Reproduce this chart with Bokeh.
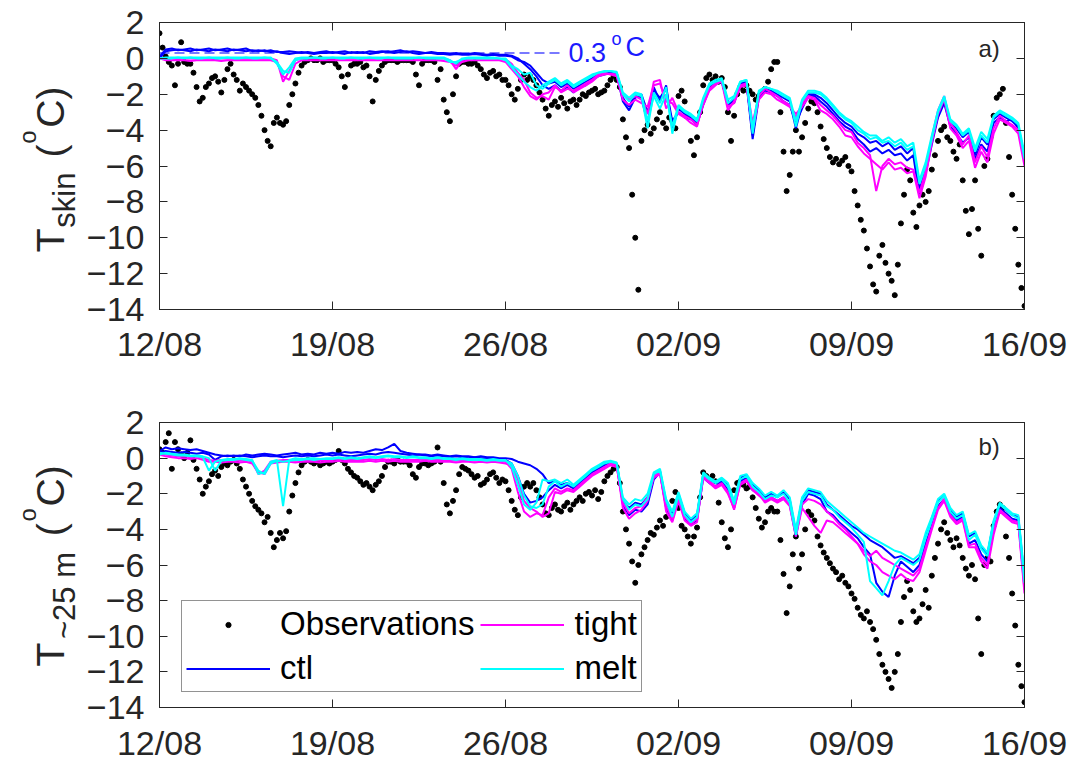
import pandas as pd
from math import pi
from bokeh.plotting import figure
from bokeh.layouts import column, row
from bokeh.core.properties import value
from bokeh.models import (Range1d, DatetimeAxis, LinearAxis, FixedTicker,
                          DatetimeTickFormatter, CustomJSTickFormatter, Label,
                          Legend, LegendItem)
from bokeh.embed import file_html
from bokeh.resources import INLINE

# ---------------- data ----------------
START = "2018-08-12 00:00"
END = "2018-09-16 00:00"
TICK_DATES = ["2018-08-12", "2018-08-19", "2018-08-26", "2018-09-02", "2018-09-09", "2018-09-16"]
Y_TICKS = [-14, -12, -10, -8, -6, -4, -2, 0, 2]
OBS_STEP = "3h"
MODEL_STEP = "6h"
REF_LEVEL = 0.3
REF_END = "2018-08-28 05:00"

OBS_A = [
    1.4, 0.6, 0.1, -0.2, -0.4, -1.5, -0.3, 0.9,
    -0.2, -0.3, -0.3, -0.8, -1.6, -2.4, -2.2, -1.6,
    -1.4, -1.1, -1.0, -1.3, -1.9, -1.2, -0.6, -0.3,
    -0.9, -1.2, -1.8, -1.4, -1.6, -1.8, -2.0, -2.2,
    -2.6, -3.2, -4.0, -4.6, -4.9, -3.6, -3.3, -3.6,
    -3.7, -3.5, -2.6, -2.0, -1.4, -0.8, -0.4, -0.2,
    -0.1, 0.0, -0.1, -0.1, 0.0, -0.2, -0.1, -0.1,
    -0.1, -0.3, -0.5, -1.0, -1.6, -0.9, -0.4, -0.3,
    -0.3, -0.2, -0.5, -0.4, -1.0, -2.4, -1.2, -0.7,
    -0.4, -0.2, -0.1, -0.1, -0.1, -0.2, -0.1, -0.1,
    -0.1, -0.1, -0.2, -0.9, -1.5, -0.3, -0.1, -0.1,
    -0.1, -0.2, -1.2, -0.6, -2.3, -3.0, -3.5, -2.0,
    -1.0, -0.3, -0.2, -0.2, -0.3, -0.3, -0.2, -0.4,
    -0.6, -0.9, -1.1, -0.8, -0.7, -1.0, -0.9, -1.2,
    -1.2, -1.5, -2.0, -2.3, -1.7, -1.2, -0.9, -1.2,
    -1.0, -1.2, -1.5, -1.9, -2.3, -2.8, -3.2, -2.6,
    -2.4, -2.7, -2.2, -2.5, -2.8, -2.4, -2.3, -2.6,
    -2.3, -2.0, -2.1, -1.9, -1.8, -1.7, -2.0, -1.9,
    -1.8, -1.5, -1.2, -1.0, -1.2, -1.6, -3.4, -4.4,
    -5.0, -7.6, -10.0, -12.9, -4.6, -4.0, -3.7, -4.2,
    -3.9, -3.4, -3.0, -3.6, -3.9, -3.3, -3.5, -3.9,
    -2.1, -1.8, -2.4, -3.2, -4.6, -5.4, -4.4, -3.0,
    -1.5, -1.1, -0.9, -1.2, -1.0, -1.3, -1.1, -1.6,
    -3.0, -4.6, -3.2, -2.0, -1.6, -1.8, -1.5, -1.8,
    -2.0, -2.3, -2.1, -1.9, -1.7, -1.3, -0.6, -0.2,
    -0.2, -3.0, -5.2, -7.4, -6.5, -5.2, -4.0, -5.2,
    -4.4, -3.6, -2.8, -2.4, -2.5, -3.0, -3.8, -4.5,
    -5.0, -5.5, -5.8, -5.6, -5.9, -5.7, -5.5, -6.0,
    -6.3, -7.4, -8.2, -9.0, -9.6, -10.6, -11.6, -12.6,
    -13.0, -11.0, -10.4, -11.4, -12.0, -12.4, -13.2, -11.5,
    -9.2, -7.6, -6.2, -6.8, -8.6, -9.4, -8.2, -7.6,
    -8.0, -7.4, -6.2, -5.4, -4.6, -4.0, -3.8, -4.4,
    -4.6, -5.2, -5.6, -4.8, -6.8, -8.5, -9.8, -8.4,
    -6.8, -9.5, -11.0, -6.0, -5.6, -4.4, -3.2, -2.2,
    -2.0, -1.7, -3.6, -5.5, -7.6, -9.5, -11.5, -12.8,
    -13.8]

OBS_B = [
    0.5, 0.3, 0.9, 1.4, -0.6, 0.9, 0.5, 0.2,
    0.0, 0.3, 1.0, -0.1, -0.6, -1.2, -2.0, -1.6,
    -1.3, -0.9, -0.7, -1.0, -0.5, -0.3, -0.4, -0.2,
    -0.1, -0.3, -0.6, -1.2, -1.6, -2.0, -2.4, -2.7,
    -2.9, -3.1, -3.6, -3.3, -4.2, -5.0, -4.6, -4.2,
    -4.5, -4.1, -3.0, -2.1, -1.4, -0.8, -0.4, -0.2,
    -0.1, -0.2, -0.3, -0.2, -0.4, -0.3, -0.2, -0.3,
    -0.2, -0.1, 0.4, -0.1, -0.3, -0.6, -0.8, -1.0,
    -1.1, -1.3, -1.5, -1.4, -1.6, -1.8, -1.5, -1.3,
    -1.0, -0.5, -0.2, -0.2, -0.3, -0.1, -0.2, -0.2,
    -0.2, -0.4, -0.9, -1.1, -0.5, -0.3, -0.3, -0.4,
    -0.3, -0.2, 0.6, -0.2, -1.4, -2.6, -3.1, -2.4,
    -1.8, -0.9, -0.5, -0.6, -0.7, -0.9, -1.1, -1.0,
    -1.5, -1.4, -1.2, -0.9, -0.8, -1.1, -1.4, -1.2,
    -1.3, -1.8, -2.4, -2.9, -3.2, -2.2, -1.6, -1.4,
    -1.6, -1.4, -1.8, -2.2, -2.6, -3.1, -3.2, -2.8,
    -2.6, -2.9, -3.0, -2.7, -2.5, -2.9, -2.6, -2.4,
    -2.2, -2.4, -2.0, -1.9, -2.1, -1.8, -2.3, -1.9,
    -1.3, -1.0, -0.8, -0.6, -0.5, -1.4, -3.0, -4.0,
    -4.8, -5.8, -7.0, -6.0, -5.4, -5.0, -4.6, -4.2,
    -4.3, -3.9, -3.5, -3.8, -3.3, -3.0, -2.4, -1.9,
    -2.8, -3.8, -4.0, -4.4, -4.8, -4.4, -3.9, -2.2,
    -0.8, -1.0, -1.2, -1.0, -1.3, -2.5, -3.6, -4.5,
    -5.0, -4.0, -1.8, -1.4, -1.3, -1.5, -1.7, -1.6,
    -2.2, -2.8, -3.4, -3.9, -3.6, -3.0, -2.8, -3.0,
    -3.0, -4.6, -6.5, -8.7, -7.2, -5.4, -4.4, -6.2,
    -5.4, -4.0, -3.0, -3.2, -3.5, -4.4, -4.9, -5.3,
    -5.6, -5.9, -6.2, -6.4, -6.8, -6.6, -7.0, -7.2,
    -7.6, -7.9, -8.4, -8.8, -9.0, -8.6, -9.2, -9.6,
    -10.2, -11.0, -11.6, -12.0, -12.4, -12.9, -12.0, -11.0,
    -9.2, -7.8, -6.9, -7.4, -8.6, -9.2, -9.0, -8.2,
    -7.4, -8.4, -6.6, -5.6, -4.8, -4.0, -3.6, -4.2,
    -4.6, -5.0, -4.5, -4.9, -5.6, -6.2, -6.6, -6.0,
    -6.8, -9.0, -11.0, -6.0, -5.6, -5.8, -3.8, -3.0,
    -2.6, -2.8, -4.4, -5.6, -7.6, -9.4, -11.6, -12.8,
    -13.7]

# model runs, 6-hourly, panel a (T skin)
CTL_A1 = [
    0.0, 0.4, 0.45, 0.5, 0.45, 0.4, 0.5, 0.45, 0.4, 0.5, 0.45, 0.4,
    0.5, 0.45, 0.4, 0.45, 0.4, 0.45, 0.35, 0.4, 0.3, 0.25, 0.3, 0.35,
    0.3, 0.25, 0.3, 0.3, 0.35, 0.3, 0.25, 0.35, 0.3, 0.35, 0.25, 0.3,
    0.35, 0.4, 0.3, 0.35, 0.4, 0.3, 0.25, 0.3, 0.3, 0.25, 0.25, 0.2,
    0.25, 0.2, 0.2, 0.25, 0.2, 0.15, 0.2, 0.15, 0.15, 0.1, -0.1, -0.2,
    -0.4, -0.8, -1.2, -1.4, -1.3, -1.6, -1.4, -1.7, -1.5, -1.3, -1.1, -0.9,
    -0.8, -0.75, -0.8, -2.2, -2.7, -2.0, -2.2, -3.6, -1.6, -2.4, -1.5, -3.9,
    -2.8, -3.1, -3.3, -3.6, -2.4, -1.6, -1.4, -1.3, -2.6, -2.3, -1.4, -1.3,
    -4.3, -2.0, -1.7, -1.8, -2.0, -2.2, -2.4, -3.9, -2.6, -2.0, -2.0, -2.2,
    -2.5, -2.9, -3.3, -3.6, -3.8, -4.2, -4.4, -4.7, -4.6, -4.9, -4.7, -5.1,
    -4.9, -5.3, -5.0, -7.3, -6.2, -4.6, -3.2, -2.3, -3.6, -3.9, -4.4, -4.1,
    -5.4, -4.4, -4.8, -3.4, -3.1, -3.3, -3.5, -3.8, -5.5]
CTL_A2 = [
    0.1, 0.5, 0.55, 0.45, 0.5, 0.55, 0.45, 0.5, 0.55, 0.45, 0.5, 0.55,
    0.45, 0.5, 0.55, 0.4, 0.45, 0.4, 0.45, 0.35, 0.35, 0.4, 0.35, 0.3,
    0.35, 0.3, 0.35, 0.4, 0.3, 0.35, 0.4, 0.3, 0.35, 0.3, 0.4, 0.35,
    0.4, 0.35, 0.4, 0.45, 0.35, 0.4, 0.35, 0.3, 0.35, 0.3, 0.3, 0.25,
    0.3, 0.25, 0.25, 0.3, 0.25, 0.2, 0.25, 0.2, 0.2, 0.15, 0.0, -0.3,
    -0.6, -1.0, -1.5, -1.7, -1.5, -1.8, -1.6, -1.9, -1.6, -1.5, -1.2, -1.0,
    -0.9, -0.8, -0.9, -2.4, -2.9, -2.2, -2.0, -3.0, -1.8, -2.2, -1.7, -3.5,
    -3.0, -3.3, -3.4, -3.7, -2.6, -1.7, -1.3, -1.2, -2.4, -2.5, -1.5, -1.4,
    -4.5, -2.2, -1.8, -1.9, -2.1, -2.4, -2.6, -3.6, -2.8, -2.1, -2.1, -2.4,
    -2.7, -3.1, -3.5, -3.8, -4.0, -4.5, -4.8, -5.2, -5.0, -5.3, -5.1, -5.4,
    -5.3, -5.7, -5.4, -7.7, -6.4, -4.8, -3.3, -2.5, -3.8, -4.2, -4.7, -4.4,
    -5.6, -4.8, -5.2, -3.6, -3.3, -3.5, -3.4, -3.9, -5.4]
TIGHT_A1 = [
    0.0, 0.0, 0.0, -0.05, 0.0, 0.0, 0.0, 0.0, 0.0, -0.05, 0.0, 0.0,
    0.0, 0.0, 0.0, 0.0, 0.0, 0.0, 0.0, -0.1, -1.3, -0.7, -0.1, 0.0,
    0.0, 0.0, 0.0, 0.0, 0.0, 0.0, 0.0, 0.0, 0.0, 0.0, 0.0, 0.0,
    0.0, 0.0, 0.0, 0.0, 0.0, 0.0, 0.0, 0.0, 0.0, 0.0, 0.0, -0.1,
    -0.6, -0.1, 0.0, 0.0, 0.0, 0.0, 0.0, -0.05, -0.05, -0.3, -0.8, -1.2,
    -1.9, -2.2, -2.1, -2.3, -1.6, -1.8, -1.5, -1.9, -1.7, -1.5, -1.3, -1.0,
    -0.9, -0.85, -0.9, -2.0, -2.3, -2.1, -2.3, -3.1, -1.3, -1.2, -2.8, -2.2,
    -3.0, -3.2, -3.4, -3.7, -2.6, -1.8, -1.5, -1.2, -2.7, -2.5, -1.6, -1.5,
    -3.6, -2.1, -1.7, -1.9, -2.1, -2.4, -2.6, -3.3, -2.5, -2.1, -2.2, -2.6,
    -2.9, -3.2, -3.6, -4.0, -4.1, -4.7, -5.0, -5.4, -7.4, -6.0, -5.6, -5.9,
    -5.8, -6.1, -6.2, -7.5, -6.3, -4.4, -2.9, -2.1, -3.6, -4.1, -4.8, -4.3,
    -5.8, -4.9, -5.5, -3.9, -3.2, -3.5, -3.7, -4.0, -5.8]
TIGHT_A2 = [
    0.0, -0.1, -0.1, -0.1, -0.1, -0.15, -0.1, -0.1, -0.1, -0.1, -0.15, -0.1,
    -0.1, -0.1, -0.1, -0.1, -0.1, -0.1, -0.1, -0.2, -1.0, -1.2, -0.3, -0.1,
    -0.1, -0.1, -0.1, -0.1, -0.1, -0.1, -0.1, -0.1, -0.1, -0.1, -0.1, -0.1,
    -0.1, -0.1, -0.1, -0.1, -0.1, -0.1, -0.1, -0.1, -0.1, -0.1, -0.15, -0.2,
    -0.4, -0.2, -0.1, -0.1, -0.1, -0.1, -0.1, -0.1, -0.2, -0.6, -1.0, -1.6,
    -2.1, -2.3, -2.0, -1.9, -1.5, -1.9, -1.7, -1.8, -1.6, -1.4, -1.2, -0.9,
    -0.8, -0.9, -1.0, -2.3, -2.6, -2.3, -2.5, -2.7, -1.5, -1.4, -2.4, -2.5,
    -3.1, -3.3, -3.6, -3.8, -2.4, -1.7, -1.4, -1.3, -2.9, -2.4, -1.5, -1.4,
    -4.0, -2.3, -1.9, -2.0, -2.3, -2.5, -2.7, -3.1, -2.7, -2.2, -2.3, -2.9,
    -3.1, -3.4, -3.8, -4.3, -4.4, -4.9, -5.3, -5.6, -5.9, -6.2, -5.8, -6.2,
    -6.1, -6.4, -6.3, -7.8, -6.6, -4.7, -3.1, -2.3, -3.9, -4.3, -5.0, -4.6,
    -6.1, -5.2, -5.8, -4.2, -3.4, -3.6, -3.8, -4.2, -6.0]
MELT_A1 = [
    0.0, 0.05, 0.05, 0.05, 0.05, 0.05, 0.05, 0.05, 0.05, 0.05, 0.05, 0.05,
    0.05, 0.05, 0.05, 0.05, 0.05, 0.05, 0.05, -0.3, -0.9, -0.5, 0.0, 0.05,
    0.05, 0.05, 0.05, 0.05, 0.05, 0.05, 0.05, 0.05, 0.05, 0.05, 0.05, 0.05,
    0.05, 0.05, 0.05, 0.05, 0.05, 0.05, 0.05, 0.05, 0.05, 0.05, 0.05, -0.1,
    -0.3, 0.0, 0.05, 0.05, 0.05, 0.05, 0.05, 0.0, 0.0, -0.4, -0.6, -0.9,
    -0.8, -1.5, -1.7, -1.4, -1.2, -1.5, -1.3, -1.6, -1.4, -1.2, -1.0, -0.8,
    -0.75, -0.7, -0.8, -2.0, -2.4, -2.0, -2.1, -3.9, -1.9, -2.5, -1.6, -4.2,
    -2.7, -3.0, -3.2, -3.5, -2.3, -1.5, -1.3, -1.2, -2.5, -2.2, -1.3, -1.2,
    -4.2, -1.9, -1.6, -1.7, -1.9, -2.1, -2.3, -3.8, -2.4, -1.9, -1.9, -2.0,
    -2.3, -2.7, -3.1, -3.4, -3.6, -4.0, -4.2, -4.5, -4.4, -4.7, -4.6, -4.9,
    -4.7, -5.1, -4.9, -7.0, -6.0, -4.5, -3.0, -2.2, -3.5, -3.8, -4.3, -4.0,
    -5.2, -4.3, -4.7, -3.3, -3.0, -3.2, -3.4, -3.7, -5.6]
MELT_A2 = [
    0.0, 0.0, 0.0, 0.05, 0.0, 0.05, 0.0, 0.0, 0.05, 0.0, 0.0, 0.05,
    0.0, 0.0, 0.05, 0.0, 0.0, 0.05, 0.0, -0.2, -0.7, -0.8, -0.1, 0.0,
    0.0, 0.05, 0.0, 0.0, 0.05, 0.0, 0.0, 0.05, 0.0, 0.0, 0.05, 0.0,
    0.0, 0.05, 0.0, 0.0, 0.0, 0.0, 0.05, 0.0, 0.0, 0.0, 0.0, -0.2,
    -0.2, -0.05, 0.0, 0.0, 0.0, 0.0, 0.0, 0.0, -0.1, -0.5, -0.9, -1.3,
    -1.6, -1.8, -1.5, -1.3, -1.1, -1.4, -1.2, -1.5, -1.3, -1.1, -0.9, -0.8,
    -0.7, -0.7, -0.75, -1.9, -2.2, -1.9, -2.0, -3.5, -2.1, -2.8, -2.0, -3.8,
    -2.6, -2.9, -3.1, -3.4, -2.2, -1.4, -1.2, -1.1, -2.3, -2.1, -1.3, -1.2,
    -3.9, -1.8, -1.6, -1.7, -1.8, -2.0, -2.2, -3.5, -2.3, -1.8, -1.8, -1.9,
    -2.2, -2.6, -3.0, -3.3, -3.5, -3.8, -4.1, -4.3, -4.3, -4.6, -4.4, -4.7,
    -4.5, -4.9, -4.7, -6.8, -5.8, -4.3, -2.9, -2.1, -3.4, -3.7, -4.2, -3.9,
    -5.0, -4.1, -4.5, -3.2, -2.9, -3.1, -3.3, -3.6, -5.3]

# model runs, 6-hourly, panel b (T ~25 m)
CTL_B1 = [
    0.4, 0.6, 0.5, 0.55, 0.5, 0.45, 0.5, 0.4, 0.3, 0.2, 0.15, 0.1,
    0.15, 0.1, 0.2, 0.15, 0.2, 0.25, 0.2, 0.15, 0.2, 0.25, 0.3, 0.2,
    0.25, 0.2, 0.3, 0.25, 0.3, 0.25, 0.35, 0.3, 0.35, 0.3, 0.4, 0.5,
    0.45, 0.6, 0.8, 0.4, 0.3, 0.25, 0.2, 0.2, 0.15, 0.2, 0.15, 0.1,
    0.15, 0.1, 0.1, 0.05, 0.1, 0.05, 0.05, 0.0, 0.0, -0.05, -0.2, -0.3,
    -0.4, -0.6, -0.9, -1.4, -1.3, -1.5, -1.4, -1.6, -1.3, -1.0, -0.7, -0.5,
    -0.3, -0.2, -0.3, -2.4, -2.8, -2.5, -2.6, -2.2, -1.0, -0.7, -2.5, -3.1,
    -2.0, -3.1, -3.5, -3.2, -0.9, -1.2, -1.4, -1.2, -1.5, -2.5, -1.1, -0.95,
    -1.5, -1.8, -2.2, -2.0, -2.2, -1.9, -2.3, -4.2, -2.3, -1.8, -1.9, -2.0,
    -2.6, -2.9, -3.2, -3.5, -3.8, -4.0, -4.3, -4.6, -4.8, -5.0, -5.3, -5.6,
    -5.5, -5.7, -5.9, -5.6, -4.4, -3.4, -2.4, -2.1, -2.9, -3.3, -3.1, -4.4,
    -4.2, -5.0, -5.4, -3.6, -2.6, -2.9, -3.2, -3.3, -6.8]
CTL_B2 = [
    0.3, 0.4, 0.35, 0.3, 0.35, 0.3, 0.25, 0.3, 0.2, -0.1, 0.1, 0.15,
    0.1, 0.15, 0.1, 0.05, 0.1, 0.15, 0.1, 0.1, 0.05, 0.1, 0.15, 0.1,
    0.15, 0.1, 0.15, 0.2, 0.15, 0.2, 0.15, 0.1, 0.15, 0.2, 0.25, 0.2,
    0.3, 0.35, 0.3, 0.25, 0.2, 0.15, 0.2, 0.15, 0.1, 0.15, 0.1, 0.05,
    0.1, 0.05, 0.0, 0.05, 0.0, 0.0, -0.05, -0.05, -0.1, -0.3, -1.0, -2.0,
    -2.5, -2.4, -2.2, -1.8, -1.5, -1.7, -1.5, -1.7, -1.4, -1.1, -0.8, -0.6,
    -0.4, -0.25, -0.35, -2.6, -3.2, -2.9, -3.0, -2.6, -1.2, -0.8, -2.8, -3.5,
    -2.2, -3.4, -3.7, -3.5, -1.1, -1.4, -1.6, -1.3, -1.8, -2.8, -1.3, -1.1,
    -1.8, -2.0, -2.4, -2.2, -2.4, -2.2, -2.6, -4.4, -2.6, -2.0, -2.1, -2.3,
    -3.0, -3.2, -3.6, -3.9, -4.2, -4.5, -5.0, -5.4, -7.0, -7.5, -7.8, -6.6,
    -5.8, -6.1, -6.4, -6.0, -4.8, -3.8, -2.7, -2.3, -3.1, -3.5, -3.3, -4.8,
    -4.6, -5.4, -5.8, -4.0, -2.8, -3.1, -3.4, -3.5, -7.2]
TIGHT_B1 = [
    0.3, 0.2, 0.15, 0.1, 0.1, 0.05, 0.1, 0.0, -0.1, -0.15, -0.1, -0.1,
    -0.1, -0.15, -0.1, -0.2, -0.9, -0.7, -0.2, -0.15, -0.1, -0.1, -0.15, -0.1,
    -0.1, -0.1, -0.15, -0.1, -0.1, -0.05, -0.1, -0.1, -0.1, -0.1, -0.05, -0.1,
    -0.05, -0.1, -0.05, -0.1, -0.1, -0.1, -0.1, -0.05, -0.1, -0.1, -0.1, -0.1,
    -0.15, -0.1, -0.1, -0.15, -0.1, -0.15, -0.1, -0.15, -0.2, -0.6, -1.9, -3.0,
    -3.3, -3.1, -3.2, -2.2, -1.7, -1.9, -1.7, -1.8, -1.5, -1.2, -0.9, -0.7,
    -0.5, -0.3, -0.4, -2.8, -3.4, -3.1, -2.9, -2.4, -1.0, -0.8, -3.0, -3.6,
    -2.4, -3.5, -3.8, -3.6, -1.0, -1.3, -1.6, -1.4, -1.9, -2.9, -1.4, -1.2,
    -1.7, -2.0, -2.5, -2.3, -2.5, -2.3, -2.7, -4.4, -2.8, -3.3, -3.8, -4.2,
    -3.5, -3.6, -3.9, -4.2, -4.5, -4.8, -5.2, -5.5, -5.2, -5.6, -5.8, -6.0,
    -6.2, -6.4, -6.6, -6.2, -5.0, -3.9, -2.8, -2.3, -3.2, -3.6, -3.4, -4.9,
    -4.8, -5.6, -6.0, -4.1, -2.9, -3.2, -3.5, -3.6, -7.4]
TIGHT_B2 = [
    0.2, 0.1, 0.05, 0.0, 0.0, -0.05, 0.0, -0.1, -0.2, -0.2, -0.25, -0.2,
    -0.2, -0.25, -0.2, -0.3, -0.8, -0.9, -0.3, -0.25, -0.2, -0.2, -0.25, -0.2,
    -0.2, -0.2, -0.25, -0.2, -0.2, -0.15, -0.2, -0.2, -0.2, -0.2, -0.15, -0.2,
    -0.15, -0.2, -0.15, -0.2, -0.2, -0.2, -0.2, -0.15, -0.2, -0.2, -0.2, -0.2,
    -0.25, -0.2, -0.2, -0.25, -0.2, -0.25, -0.2, -0.25, -0.3, -0.4, -1.2, -2.4,
    -2.8, -3.0, -3.3, -3.1, -1.9, -2.0, -1.8, -1.9, -1.6, -1.3, -1.0, -0.8,
    -0.6, -0.4, -0.5, -2.5, -3.1, -2.8, -2.7, -2.2, -1.1, -0.9, -2.7, -3.4,
    -2.2, -3.3, -3.7, -3.4, -1.1, -1.4, -1.7, -1.5, -2.0, -2.8, -1.5, -1.3,
    -1.8, -2.1, -2.4, -2.2, -2.4, -2.2, -2.6, -4.1, -2.6, -2.3, -2.4, -2.6,
    -3.0, -3.3, -3.7, -4.0, -4.4, -4.8, -5.4, -5.8, -6.0, -6.4, -6.6, -6.8,
    -6.5, -6.8, -6.9, -6.4, -5.2, -4.0, -2.9, -2.4, -3.3, -3.7, -3.5, -5.0,
    -5.0, -5.8, -6.2, -4.3, -3.0, -3.3, -3.6, -3.7, -7.6]
MELT_B1 = [
    0.3, 0.25, 0.2, 0.15, 0.15, 0.1, 0.1, 0.05, -0.7, -0.2, -0.1, -0.05,
    -0.05, 0.0, -0.05, -0.1, -0.9, -0.8, -0.2, -0.1, -2.7, -0.1, 0.0, -0.05,
    0.0, 0.0, -0.05, 0.0, 0.0, 0.05, 0.0, 0.05, 0.0, 0.05, 0.1, 0.05,
    0.1, 0.15, 0.1, 0.1, 0.05, 0.1, 0.05, 0.05, 0.0, 0.05, 0.0, 0.0,
    -0.05, 0.0, -0.05, -0.05, -0.05, -0.1, -0.05, -0.1, -0.1, -0.5, -1.5, -2.6,
    -2.9, -2.5, -1.2, -1.3, -1.2, -1.4, -1.2, -1.5, -1.2, -0.9, -0.6, -0.4,
    -0.2, -0.15, -0.25, -2.2, -2.6, -2.3, -2.4, -2.0, -0.8, -0.6, -2.3, -3.0,
    -1.9, -3.0, -3.4, -3.1, -0.8, -1.1, -1.3, -1.1, -1.4, -2.4, -1.0, -0.9,
    -1.4, -1.7, -2.1, -1.9, -2.1, -1.8, -2.2, -4.0, -2.2, -1.7, -1.8, -1.9,
    -2.4, -2.7, -3.0, -3.3, -3.6, -3.9, -4.2, -4.4, -4.6, -4.8, -5.0, -5.2,
    -5.3, -5.5, -5.7, -5.4, -4.2, -3.3, -2.3, -2.0, -2.8, -3.2, -3.0, -4.3,
    -4.1, -4.9, -5.3, -3.5, -2.5, -2.8, -3.1, -3.2, -6.6]
MELT_B2 = [
    0.2, 0.3, 0.25, 0.2, 0.2, 0.15, 0.15, 0.1, 0.0, -0.7, -0.15, -0.1,
    -0.1, -0.05, -0.1, -0.15, -0.7, -0.9, -0.3, -0.15, -0.2, -0.15, -0.1, -0.1,
    -0.05, -0.1, -0.05, -0.05, -0.05, 0.0, -0.05, 0.0, -0.05, 0.0, 0.05, 0.0,
    0.05, 0.1, 0.05, 0.05, 0.0, 0.05, 0.0, 0.0, -0.05, 0.0, -0.05, -0.05,
    -0.1, -0.05, -0.1, -0.1, -0.1, -0.15, -0.1, -0.15, -0.15, -0.3, -1.0, -2.1,
    -2.7, -2.8, -2.6, -1.6, -1.3, -1.6, -1.4, -1.6, -1.3, -1.0, -0.7, -0.5,
    -0.3, -0.2, -0.3, -2.3, -2.9, -2.6, -2.7, -2.3, -0.9, -0.7, -2.4, -3.3,
    -2.1, -3.2, -3.6, -3.3, -0.9, -1.2, -1.4, -1.2, -1.6, -2.6, -1.2, -1.0,
    -1.6, -1.9, -2.3, -2.1, -2.2, -2.0, -2.5, -4.3, -2.4, -1.9, -2.0, -2.1,
    -2.7, -2.9, -3.3, -3.6, -3.9, -4.3, -4.7, -6.9, -7.3, -7.7, -6.9, -6.0,
    -5.6, -5.8, -6.0, -5.7, -4.5, -3.5, -2.5, -2.1, -3.0, -3.4, -3.2, -4.6,
    -4.3, -5.1, -5.5, -3.7, -2.6, -2.9, -3.2, -3.4, -7.0]

# ---------------- style ----------------
FONT = "Liberation Sans"
AX = "#262626"
C_CTL, C_TIGHT, C_MELT = "#0000ff", "#ff00ff", "#00ffff"
LABEL_W = 83

obs_t = pd.date_range(START, END, freq=OBS_STEP)
mod_t = pd.date_range(START, END, freq=MODEL_STEP)
tick_ms = [pd.Timestamp(d).value / 1e6 for d in TICK_DATES]


def make_panel(height, border_top, border_bottom, x_standoff):
    p = figure(width=1072 - LABEL_W, height=height, x_axis_type="datetime",
               x_range=Range1d(pd.Timestamp(START), pd.Timestamp(END)),
               y_range=Range1d(-14, 2), toolbar_location=None,
               output_backend="svg", min_border_left=156 - LABEL_W,
               min_border_right=48, min_border_top=border_top,
               min_border_bottom=border_bottom)
    p.grid.visible = False
    p.outline_line_color = AX
    p.outline_line_width = 1
    p.background_fill_color = "white"
    p.border_fill_color = "white"

    xa = p.xaxis[0]
    xa.ticker = FixedTicker(ticks=tick_ms)
    xa.formatter = DatetimeTickFormatter(days="%d/%m", months="%d/%m", hours="%d/%m",
                                         years="%d/%m")
    xa.major_label_standoff = x_standoff
    ya = p.yaxis[0]
    ya.ticker = FixedTicker(ticks=Y_TICKS)
    ya.major_label_standoff = 15
    for a in (xa, ya):
        a.major_label_text_font = FONT
        a.major_label_text_font_size = "34px"
        a.major_label_text_color = AX

    top = DatetimeAxis(ticker=FixedTicker(ticks=tick_ms),
                       formatter=CustomJSTickFormatter(code="return ''"))
    right = LinearAxis(ticker=FixedTicker(ticks=Y_TICKS),
                       formatter=CustomJSTickFormatter(code="return ''"))
    for a in (top, right):
        a.major_label_text_font_size = "0px"
        a.major_label_standoff = 0
    p.add_layout(top, "above")
    p.add_layout(right, "right")
    for a in (xa, ya, top, right):
        a.major_tick_in = 8
        a.major_tick_out = 0
        a.minor_tick_line_color = None
        a.axis_line_color = AX
        a.major_tick_line_color = AX
    return p


def label_strip(height, frame_top, frame_bottom, parts):
    """Narrow blank plot (frame aligned with the panel's frame) holding the
    rotated y-axis title pieces; each piece is anchored at its upper end,
    y given as minus the page row."""
    f = figure(width=LABEL_W, height=height, x_range=Range1d(0, LABEL_W),
               y_range=Range1d(-frame_bottom, -frame_top), toolbar_location=None,
               output_backend="svg", x_axis_location=None, y_axis_location=None,
               min_border_left=0, min_border_right=0)
    f.grid.visible = False
    f.outline_line_color = None
    f.background_fill_color = "white"
    f.border_fill_color = "white"
    for text, px, py, size in parts:
        f.text(x=[px], y=[-py], text=[text], angle=pi / 2,
               text_font=value(FONT), text_font_size=value(size), text_color=AX,
               text_align="right", text_baseline="alphabetic")
    return f


# ---------------- panel a ----------------
PA_H = 372
pa = make_panel(PA_H, 22, 63, 15)
pa.scatter(obs_t, OBS_A, size=5, color="black", marker="circle")
pa.line([pd.Timestamp(START), pd.Timestamp(REF_END)], [REF_LEVEL, REF_LEVEL],
        line_color="#4d4dff", line_width=1.5, line_dash="10 5")
for color, series in ((C_CTL, (CTL_A1, CTL_A2)), (C_TIGHT, (TIGHT_A1, TIGHT_A2)),
                      (C_MELT, (MELT_A1, MELT_A2))):
    for s in series:
        pa.line(mod_t, s, line_color=color, line_width=2)

pa.add_layout(Label(x=409, y=248, x_units="screen", y_units="screen", text="0.3",
                    text_font=FONT, text_font_size="27px", text_color="#1a1aff"))
pa.add_layout(Label(x=452, y=261, x_units="screen", y_units="screen", text="o",
                    text_font=FONT, text_font_size="18px", text_color="#1a1aff"))
pa.add_layout(Label(x=466, y=248, x_units="screen", y_units="screen", text="C",
                    text_font=FONT, text_font_size="27px", text_color="#1a1aff"))
pa.add_layout(Label(x=819, y=248, x_units="screen", y_units="screen", text="a)",
                    text_font=FONT, text_font_size="24px", text_color=AX))

la = label_strip(PA_H, 22, 309,
                 [("T", 50, 228, "39px"), ("skin", 64, 172, "31px"),
                  ("(", 50, 144, "39px"), ("o", 27, 130, "24px"),
                  ("C)", 50, 86, "39px")])

# ---------------- panel b ----------------
PB_H = 392
pb = make_panel(PB_H, 50, 56, 16)
r_obs = pb.scatter(obs_t, OBS_B, size=5, color="black", marker="circle")
first = {}
for name, color, series in (("ctl", C_CTL, (CTL_B1, CTL_B2)),
                            ("tight", C_TIGHT, (TIGHT_B1, TIGHT_B2)),
                            ("melt", C_MELT, (MELT_B1, MELT_B2))):
    for s in series:
        r = pb.line(mod_t, s, line_color=color, line_width=2)
        first.setdefault(name, r)

pb.add_layout(Label(x=819, y=248, x_units="screen", y_units="screen", text="b)",
                    text_font=FONT, text_font_size="24px", text_color=AX))

legend = Legend(items=[LegendItem(label="Observations", renderers=[r_obs]),
                       LegendItem(label="ctl", renderers=[first["ctl"]]),
                       LegendItem(label="tight", renderers=[first["tight"]]),
                       LegendItem(label="melt", renderers=[first["melt"]])],
                location=(22, 15), orientation="vertical", nrows=2,
                glyph_width=84, glyph_height=13, label_standoff=10,
                padding=4, spacing=6, margin=0,
                label_text_font=FONT, label_text_font_size="33px",
                label_text_color="#000000", border_line_color=AX,
                border_line_width=1, background_fill_color="white",
                background_fill_alpha=1.0)
pb.add_layout(legend)

# page rows of panel b's frame: 372 + 50 = 422 .. 708
lb = label_strip(PB_H, 422, 708,
                 [("T", 50, 643, "39px"), ("~25 m", 64, 552, "31px"),
                  ("(", 50, 523, "39px"), ("o", 27, 508, "24px"),
                  ("C)", 50, 465, "39px")])

layout = column(row(la, pa, spacing=0), row(lb, pb, spacing=0), spacing=0)
open("out.html", "w").write(file_html(layout, INLINE))
